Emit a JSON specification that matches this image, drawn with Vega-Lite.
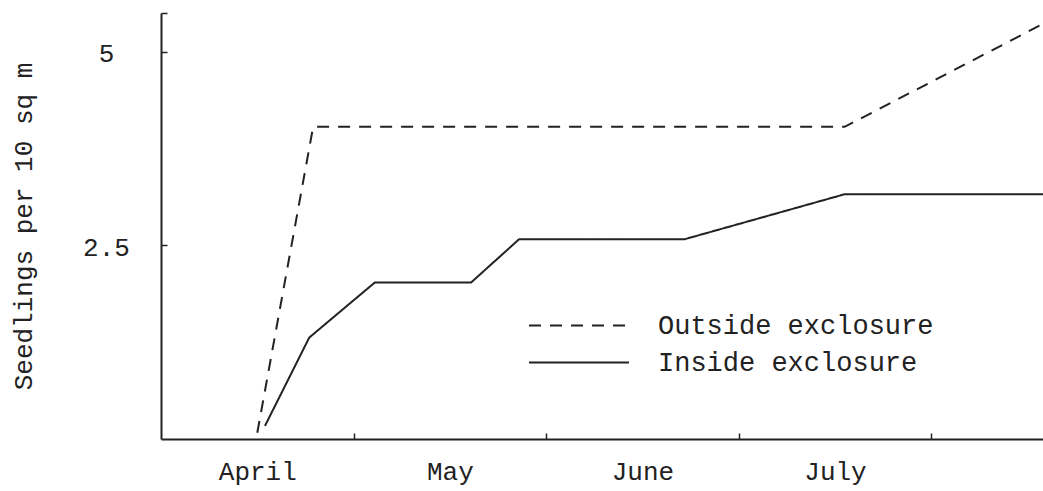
{
  "$schema": "https://vega.github.io/schema/vega-lite/v6.json",
  "width": 882,
  "height": 426,
  "autosize": "none",
  "padding": {"left": 161, "top": 13, "right": 0, "bottom": 52},
  "background": "white",
  "config": {
    "view": {"stroke": null},
    "font": "Liberation Mono",
    "axis": {"domainColor": "#222", "domainWidth": 2, "tickColor": "#222", "tickWidth": 1.5, "labelColor": "#222", "titleColor": "#222", "labelFont": "Liberation Mono", "titleFont": "Liberation Mono", "labelFontSize": 26, "titleFontSize": 26, "titleFontWeight": "normal", "grid": false},
    "legend": {"labelFont": "Liberation Mono", "labelFontSize": 27, "labelColor": "#222", "labelLimit": 500}
  },
  "data": {
    "values": [
      {"series": "Outside exclosure", "month": 0.50, "seedlings": 0.08},
      {"series": "Outside exclosure", "month": 0.79, "seedlings": 4.03},
      {"series": "Outside exclosure", "month": 3.55, "seedlings": 4.03},
      {"series": "Outside exclosure", "month": 4.58, "seedlings": 5.36},
      {"series": "Inside exclosure", "month": 0.54, "seedlings": 0.17},
      {"series": "Inside exclosure", "month": 0.77, "seedlings": 1.31},
      {"series": "Inside exclosure", "month": 1.11, "seedlings": 2.02},
      {"series": "Inside exclosure", "month": 1.61, "seedlings": 2.02},
      {"series": "Inside exclosure", "month": 1.86, "seedlings": 2.58},
      {"series": "Inside exclosure", "month": 2.72, "seedlings": 2.58},
      {"series": "Inside exclosure", "month": 3.55, "seedlings": 3.16},
      {"series": "Inside exclosure", "month": 4.58, "seedlings": 3.16}
    ]
  },
  "mark": {"type": "line", "color": "#222", "strokeWidth": 2},
  "encoding": {
    "x": {
      "field": "month", "type": "quantitative",
      "scale": {"domain": [0, 4.58], "nice": false, "zero": false},
      "axis": {
        "title": null,
        "values": [0.5, 1, 1.5, 2, 2.5, 3, 3.5, 4],
        "labelExpr": "datum.value == 0.5 ? 'April' : datum.value == 1.5 ? 'May' : datum.value == 2.5 ? 'June' : datum.value == 3.5 ? 'July' : ''",
        "tickSize": -6,
        "tickOpacity": {"condition": {"test": "datum.value % 1 == 0", "value": 1}, "value": 0},
        "labelPadding": 25,
        "labelFlush": false,
        "labelOverlap": false
      }
    },
    "y": {
      "field": "seedlings", "type": "quantitative",
      "scale": {"domain": [0, 5.5], "nice": false},
      "axis": {
        "title": "Seedlings per 10 sq m",
        "values": [2.5, 5, 5.5],
        "labelExpr": "datum.value == 5.5 ? '' : datum.value == 2.5 ? '2.5' : '5'",
        "tickSize": -6,
        "labelAlign": "center",
        "labelBaseline": "middle",
        "labelOffset": 2,
        "labelPadding": 61,
        "labelFlush": false,
        "labelOverlap": false,
        "titlePadding": 46
      }
    },
    "strokeDash": {
      "field": "series", "type": "nominal",
      "scale": {"domain": ["Outside exclosure", "Inside exclosure"], "range": [[12, 9], [1, 0]]},
      "legend": {
        "title": null,
        "orient": "none",
        "legendX": 367,
        "legendY": 300,
        "symbolType": "stroke",
        "symbolSize": 10000,
        "symbolStrokeWidth": 2,
        "symbolStrokeColor": "#222",
        "clipHeight": 25,
        "labelOffset": 28,
        "rowPadding": 9
      }
    }
  }
}
